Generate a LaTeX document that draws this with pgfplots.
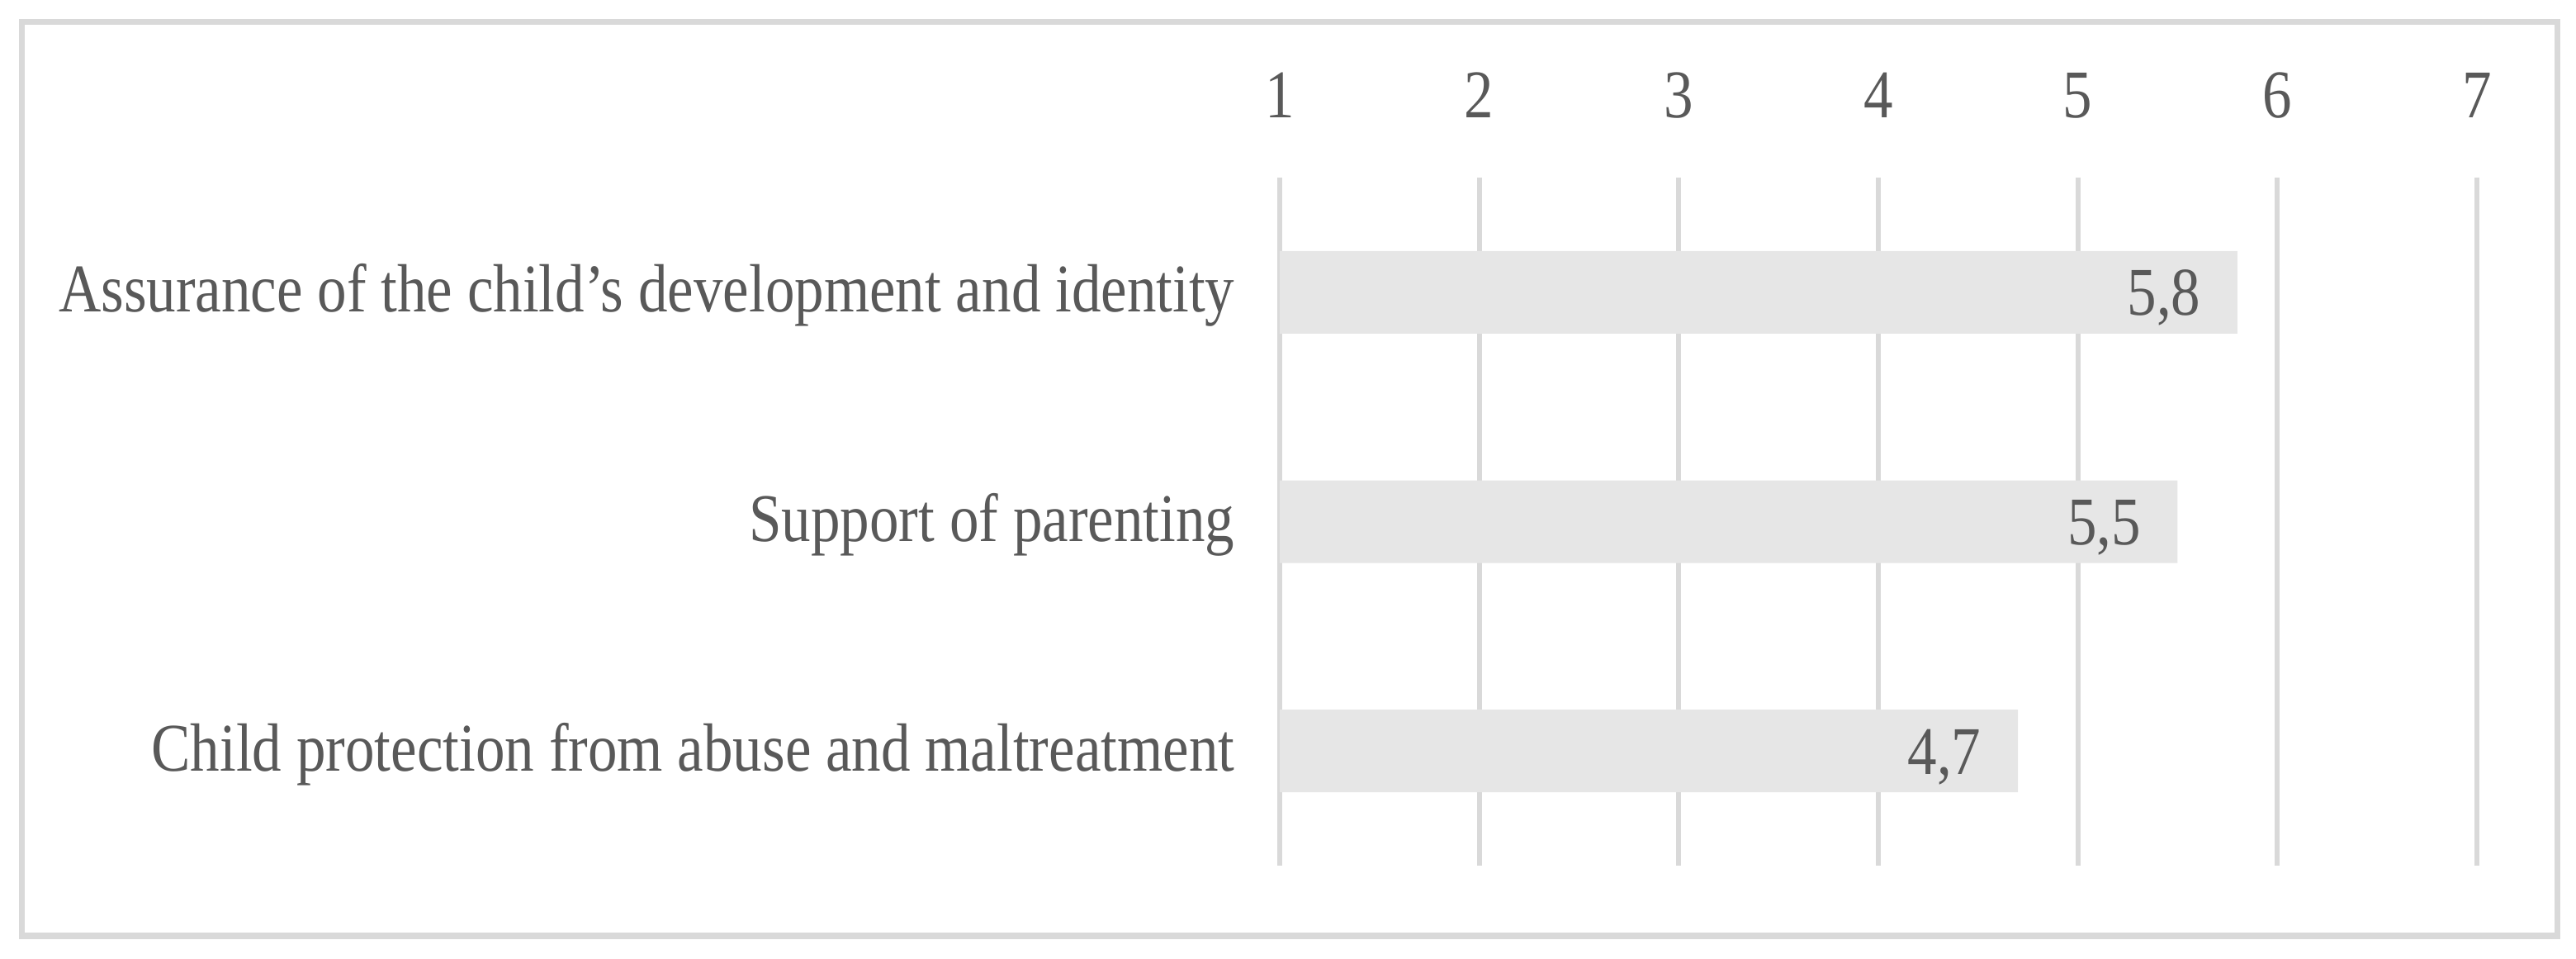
\documentclass[border=0pt]{standalone}
\usepackage{fontspec}
\setmainfont{Liberation Serif}[FakeStretch=0.86]
\usepackage{pgfplots}
\pgfplotsset{compat=1.18}
\usepackage{pgfplotstable}
\usepackage{xcolor}

\definecolor{txtgray}{HTML}{595959}
\definecolor{bargray}{HTML}{E6E6E6}
\definecolor{gridgray}{HTML}{D9D9D9}

% y = row (0 at top), x = mean score
\pgfplotstableread{
y x
0 5.8
1 5.5
2 4.7
}\scores

\begin{document}
\fontsize{23.5pt}{28pt}\selectfont
\begin{tikzpicture}
\begin{axis}[
scale only axis,
width=14.5cm, height=8.33cm,
at={(0,0)}, anchor=south west,
xmin=1, xmax=7,
ymin=-0.5, ymax=2.5,
y dir=reverse,
xtick={1,2,3,4,5,6,7},
ytick={0,1,2},
yticklabels={Assurance of the child’s development and identity, Support of parenting, Child protection from abuse and maltreatment},
xticklabel pos=upper,
major tick length=0pt,
axis line style={draw=none},
xmajorgrids, ymajorgrids=false,
grid style={color=gridgray, line width=1.7pt},
/pgf/number format/assume math mode=true,
every tick label/.append style={text=txtgray},
xticklabel style={anchor=base, inner sep=0pt, yshift=0.73cm},
yticklabel style={anchor=base east, inner sep=0pt, xshift=-0.54cm, yshift=-0.24cm},
xbar, bar width=1cm,
nodes near coords={\pgfmathprintnumber[fixed, fixed zerofill, precision=1, use comma, assume math mode=true]{\pgfplotspointmeta}},
point meta=x,
nodes near coords style={anchor=base east, inner sep=0pt, xshift=-0.44cm, yshift=-0.28cm, text=txtgray},
]
\addplot[fill=bargray, draw=none] table[x=x, y=y] {\scores};
\end{axis}
\draw[gridgray, line width=2pt] (-15.235,-0.85) rectangle (15.47,10.215);
\pgfresetboundingbox
\path (-15.5,-1.12) rectangle (15.7,10.48);
\end{tikzpicture}
\end{document}
